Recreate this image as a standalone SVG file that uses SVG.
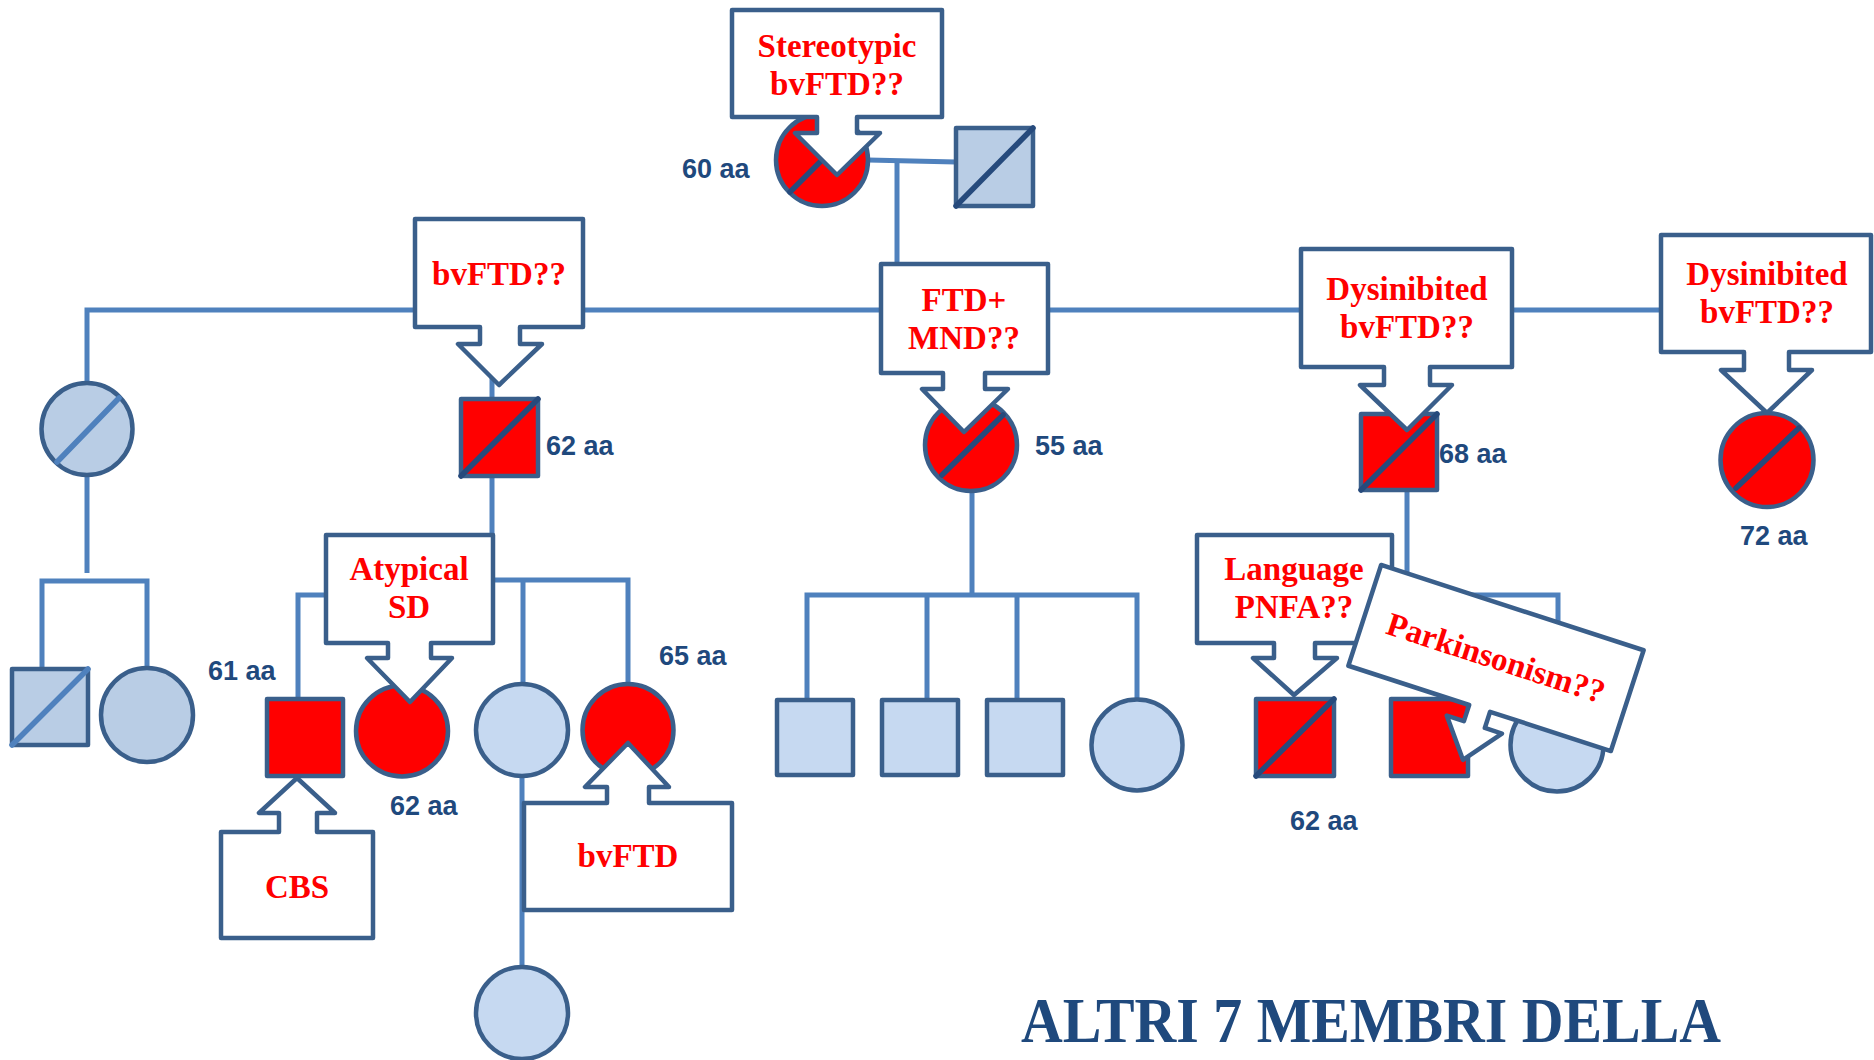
<svg xmlns="http://www.w3.org/2000/svg" width="1874" height="1060" viewBox="0 0 1874 1060">
<defs>
<style>
.ln{fill:none;stroke:#4F81BD;stroke-width:5}
.nd{stroke:#3A5F8B;stroke-width:4.5;stroke-linejoin:round}
.red{fill:#FF0000}
.gry{fill:#B9CDE5}
.lt{fill:#C6D9F1}
.dg{stroke:#264A7C;stroke-width:5.5;stroke-linecap:round}
.dgl{stroke:#4F81BD;stroke-width:5.5;stroke-linecap:round}
.co{fill:#FFFFFF;stroke:#3A5F8B;stroke-width:4.5;stroke-linejoin:round}
.lb{font-family:"Liberation Serif","Times New Roman",serif;font-weight:bold;font-size:33px;fill:#FF0000;text-anchor:middle}
.age{font-family:"Liberation Sans",Arial,sans-serif;font-weight:bold;font-size:27px;fill:#1F497D}
.ttl{font-family:"Liberation Serif","Times New Roman",serif;font-weight:bold;font-size:64px;fill:#1F497D}
</style>
</defs>
<rect width="1874" height="1060" fill="#FFFFFF"/>

<g id="connectors">
<path class="ln" d="M868,160 L956,162"/>
<path class="ln" d="M897,161 V264"/>
<path class="ln" d="M87,383 V310 H1661"/>
<path class="ln" d="M492,310 V399"/>
<path class="ln" d="M972,310 V399"/>
<path class="ln" d="M1407,310 V414"/>
<path class="ln" d="M87,475 V573"/>
<path class="ln" d="M42,670 V581 H147 V669"/>
<path class="ln" d="M492,476 V535"/>
<path class="ln" d="M326,595 H298 V699"/>
<path class="ln" d="M493,580 H628 V684"/>
<path class="ln" d="M523,580 V684"/>
<path class="ln" d="M522,776 V968"/>
<path class="ln" d="M972,490 V595"/>
<path class="ln" d="M807,700 V595 H1137 V700"/>
<path class="ln" d="M927,595 V700"/>
<path class="ln" d="M1017,595 V700"/>
<path class="ln" d="M1407,490 V595"/>
<path class="ln" d="M1392,595 H1558 V700"/>
</g>

<g id="n_gen1_f"><circle class="nd red" cx="822" cy="160" r="46"/><line class="dg" x1="790" y1="192" x2="854" y2="128"/></g>
<g id="n_gen1_m"><rect class="nd gry" x="956" y="128" width="77" height="78"/><line class="dg" x1="956" y1="206" x2="1033" y2="128"/></g>

<g id="n_gen2_1"><ellipse class="nd gry" cx="87" cy="429" rx="45.5" ry="46"/><line class="dgl" x1="57" y1="462" x2="119" y2="398"/></g>
<g id="n_gen2_2"><rect class="nd red" x="461" y="399" width="77" height="77"/><line class="dg" x1="461" y1="476" x2="538" y2="399"/></g>
<g id="n_gen2_3"><circle class="nd red" cx="971" cy="445" r="46"/><line class="dg" x1="942" y1="475" x2="1003" y2="415"/></g>
<g id="n_gen2_4"><rect class="nd red" x="1361" y="414" width="76" height="76"/><line class="dg" x1="1361" y1="490" x2="1437" y2="414"/></g>
<g id="n_gen2_5"><ellipse class="nd red" cx="1767" cy="460" rx="46.5" ry="47"/><line class="dg" x1="1736" y1="488" x2="1799" y2="428"/></g>

<g id="n_gen3_1"><rect class="nd gry" x="12" y="669" width="76" height="76"/><line class="dgl" x1="12" y1="745" x2="88" y2="669"/></g>
<g id="n_gen3_2"><ellipse class="nd gry" cx="147" cy="715" rx="46" ry="47"/></g>
<g id="n_gen3_3"><rect class="nd red" x="267" y="699" width="76" height="77"/></g>
<g id="n_gen3_4"><ellipse class="nd red" cx="402" cy="731" rx="46" ry="45.5"/></g>
<g id="n_gen3_5"><ellipse class="nd lt" cx="522" cy="730" rx="46" ry="46"/></g>
<g id="n_gen3_6"><ellipse class="nd red" cx="628" cy="730" rx="45.5" ry="46"/></g>
<g id="n_gen3_7"><rect class="nd lt" x="777" y="700" width="76" height="75"/></g>
<g id="n_gen3_8"><rect class="nd lt" x="882" y="700" width="76" height="75"/></g>
<g id="n_gen3_9"><rect class="nd lt" x="987" y="700" width="76" height="75"/></g>
<g id="n_gen3_10"><circle class="nd lt" cx="1137" cy="745" r="45.5"/></g>
<g id="n_gen3_11"><rect class="nd red" x="1256" y="699" width="78" height="77"/><line class="dg" x1="1256" y1="776" x2="1334" y2="699"/></g>
<g id="n_gen3_12"><rect class="nd red" x="1391" y="699" width="77" height="77"/></g>
<g id="n_gen3_13"><circle class="nd lt" cx="1557" cy="745" r="46.5"/></g>
<g id="n_gen4_1"><circle class="nd lt" cx="522" cy="1013" r="46"/></g>

<g id="c_stereotypic">
<path class="co" d="M732,10 H942 V117 H857 V133 H880 L837,175 L795,133 H817 V117 H732 Z"/>
<text class="lb" x="837" y="57">Stereotypic</text>
<text class="lb" x="837" y="95">bvFTD??</text>
</g>
<g id="c_bvftd_q">
<path class="co" d="M415,219 H583 V327 H520 V344 H542 L499,385 L458,344 H480 V327 H415 Z"/>
<text class="lb" x="499" y="285">bvFTD??</text>
</g>
<g id="c_ftd_mnd">
<path class="co" d="M881,264 H1048 V373 H985 V389 H1008 L964,432 L922,389 H943 V373 H881 Z"/>
<text class="lb" x="964" y="311">FTD+</text>
<text class="lb" x="964" y="349">MND??</text>
</g>
<g id="c_dys1">
<path class="co" d="M1301,249 H1512 V367 H1430 V385 H1452 L1407,430 L1360,385 H1384 V367 H1301 Z"/>
<text class="lb" x="1407" y="300">Dysinibited</text>
<text class="lb" x="1407" y="338">bvFTD??</text>
</g>
<g id="c_dys2">
<path class="co" d="M1661,235 H1871 V352 H1789 V370 H1812 L1767,413 L1721,370 H1744 V352 H1661 Z"/>
<text class="lb" x="1767" y="285">Dysinibited</text>
<text class="lb" x="1767" y="323">bvFTD??</text>
</g>
<g id="c_atypical">
<path class="co" d="M326,535 H493 V643 H431 V658 H452 L410,702 L367,658 H388 V643 H326 Z"/>
<text class="lb" x="409" y="580">Atypical</text>
<text class="lb" x="409" y="618">SD</text>
</g>
<g id="c_language">
<path class="co" d="M1197,535 H1392 V643 H1315 V658 H1337 L1294,695 L1253,658 H1274 V643 H1197 Z"/>
<text class="lb" x="1294" y="580">Language</text>
<text class="lb" x="1294" y="618">PNFA??</text>
</g>
<g id="c_cbs">
<path class="co" d="M221,938 H373 V832 H317 V813 H335 L297,778 L259,813 H279 V832 H221 Z"/>
<text class="lb" x="297" y="898">CBS</text>
</g>
<g id="c_bvftd">
<path class="co" d="M524,910 H732 V803 H649 V787 H669 L628,743 L585,787 H607 V803 H524 Z"/>
<text class="lb" x="628" y="867">bvFTD</text>
</g>
<g id="c_parkinsonism" transform="translate(1496,658) rotate(18)">
<path class="co" d="M-138,-53 H138 V53 H11 V70 H29 L0,107 L-29,70 H-11 V53 H-138 Z"/>
<text class="lb" x="0" y="11">Parkinsonism??</text>
</g>

<g id="ages">
<text class="age" x="682" y="178">60 aa</text>
<text class="age" x="546" y="455">62 aa</text>
<text class="age" x="1035" y="455">55 aa</text>
<text class="age" x="1439" y="463">68 aa</text>
<text class="age" x="1740" y="545">72 aa</text>
<text class="age" x="208" y="680">61 aa</text>
<text class="age" x="390" y="815">62 aa</text>
<text class="age" x="659" y="665">65 aa</text>
<text class="age" x="1290" y="830">62 aa</text>
</g>

<text class="ttl" x="1021" y="1042" textLength="700" lengthAdjust="spacingAndGlyphs">ALTRI 7 MEMBRI DELLA</text>
</svg>
